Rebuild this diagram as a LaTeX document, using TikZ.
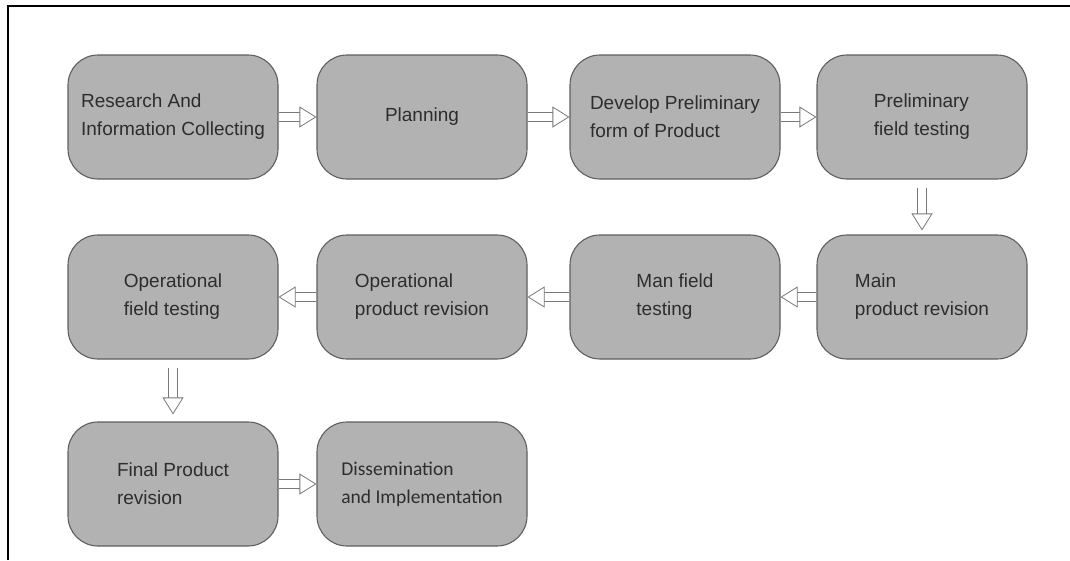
\documentclass[tikz,border=0pt]{standalone}
\usepackage{fontspec}
\setmainfont{Liberation Sans}
\newfontfamily\dissfont{Carlito}
\usetikzlibrary{arrows.meta}

\definecolor{boxfill}{RGB}{178,178,178}
\definecolor{boxline}{RGB}{95,95,95}
\definecolor{arrowline}{RGB}{120,120,120}
\definecolor{textgray}{RGB}{45,45,45}

\tikzset{
    stagebox/.style={draw=boxline, fill=boxfill, line width=1.1pt, rounded corners=30pt,
        minimum width=210pt, minimum height=124pt, align=left, text=textgray,
        font=\fontsize{19}{28}\selectfont},
    flowarrow/.style={draw=arrowline, line width=0.8pt, double=white, double distance=8.5pt,
        -{Triangle[open, fill=white, length=17pt, width=21pt]}}
}

\begin{document}
\begin{tikzpicture}[x=1pt,y=-1pt]
            \useasboundingbox (0,0) rectangle (1070,560);
            % frame
            \draw[line width=2.5pt] (8,560) -- (8,6) -- (1070,6);

            % first row
            \node[stagebox] (research) at (173,117) {Research And\\Information Collecting};
            \node[stagebox] (planning) at (422,117) {Planning};
            \node[stagebox] (develop) at (675,117) {Develop Preliminary\\form of Product};
            \node[stagebox] (prelimtest) at (922,117) {Preliminary\\field testing};

            % second row, right to left
            \node[stagebox] (mainrev) at (922,297) {Main\\product revision};
            \node[stagebox] (maintest) at (675,297) {Man field\\testing};
            \node[stagebox] (oprev) at (422,297) {Operational\\product revision};
            \node[stagebox] (optest) at (173,297) {Operational\\field testing};

            % last row
            \node[stagebox] (finalrev) at (173,484) {Final Product\\revision};
            \node[stagebox, font=\dissfont\fontsize{19.5}{28}\selectfont] (dissem) at (422,484) {Dissemination\\and Implementation};

            \foreach \a/\b in {research/planning, planning/develop, develop/prelimtest,
                               mainrev/maintest, maintest/oprev, oprev/optest, finalrev/dissem}
                \draw[flowarrow] (\a) -- (\b);

            \draw[flowarrow, shorten <=8pt, shorten >=4pt] (prelimtest) -- (mainrev);
            \draw[flowarrow, shorten <=8pt, shorten >=7pt] (optest) -- (finalrev);
\end{tikzpicture}
\end{document}
